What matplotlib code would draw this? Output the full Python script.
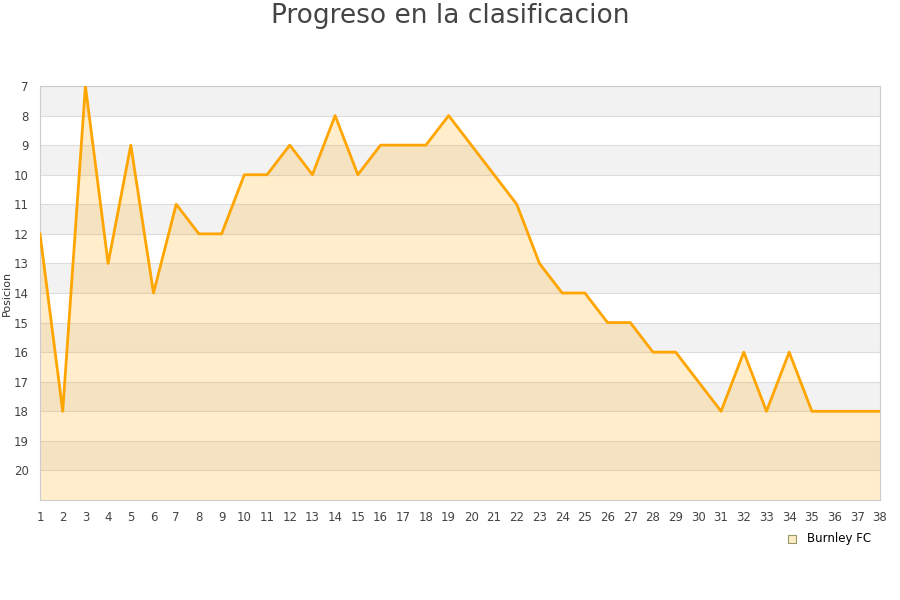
import matplotlib.pyplot as plt

jornadas = list(range(1, 39))
posiciones = [12, 18, 7, 13, 9, 14, 11, 12, 12, 10, 10, 9, 10, 8, 10, 9, 9, 9, 8, 9,
              10, 11, 13, 14, 14, 15, 15, 16, 16, 17, 18, 16, 18, 16, 18, 18, 18, 18]
equipo = 'Burnley FC'
y_ticks = list(range(7, 21))

fig = plt.figure(figsize=(9, 6), dpi=100)
ax = fig.add_axes([40 / 900, 100 / 600, 840 / 900, 414 / 600])

# alternating bands
for y in range(7, 21, 2):
    ax.axhspan(y, y + 1, color='#f2f2f2', zorder=0, lw=0)
for y in range(7, 22):
    ax.axhline(y, color='#dddddd', lw=0.8, zorder=1)

ax.fill_between(jornadas, posiciones, 21, color='#FFA500', alpha=0.2, lw=0, zorder=2)
ax.plot(jornadas, posiciones, color='#FFA500', lw=2, zorder=3)

ax.set_xlim(1, 38)
ax.set_ylim(21, 7)
ax.set_xticks(jornadas)
ax.set_yticks(y_ticks)
ax.tick_params(length=0, labelsize=8.5, colors='#444444', pad=8)
for s in ax.spines.values():
    s.set_color('#cccccc')
    s.set_linewidth(0.8)

ax.set_ylabel('Posicion', fontsize=8, color='#333333')
ax.yaxis.set_label_coords(-0.033, 0.5)

fig.suptitle('Progreso en la clasificacion', fontsize=19, color='#444444', y=0.995)

ax.scatter([], [], marker='s', s=40, facecolor='#FFEBC6', edgecolor='#999966',
           linewidths=0.8, label=equipo)
ax.legend(loc='upper right', bbox_to_anchor=(0.995, -0.065), frameon=False, fontsize=8.5,
          handletextpad=0.3, borderaxespad=0)

fig.savefig('out.png', dpi=100)
